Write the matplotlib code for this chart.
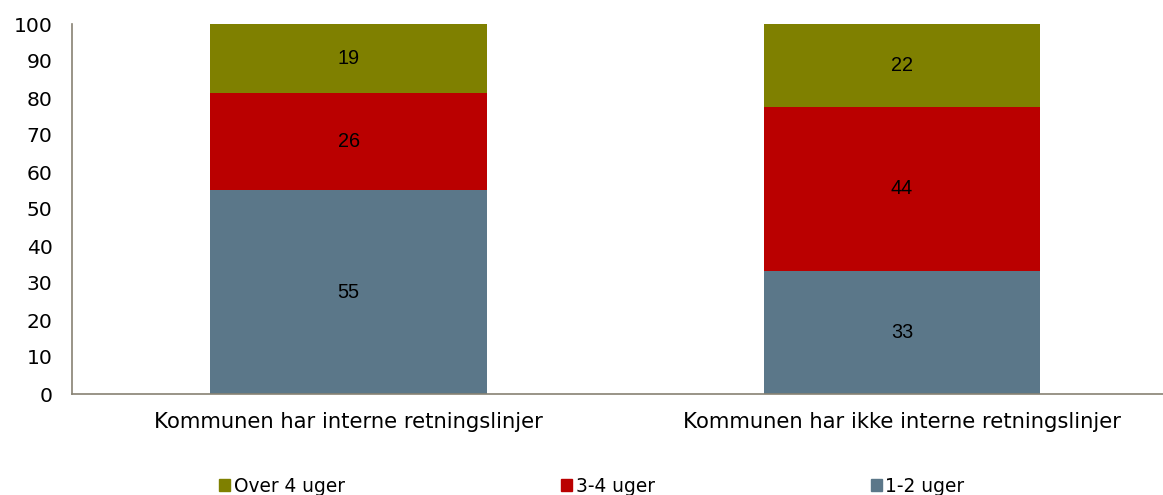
import matplotlib
matplotlib.use("Agg")
import matplotlib.pyplot as plt
from matplotlib.patches import Patch

categories = ["Kommunen har interne retningslinjer", "Kommunen har ikke interne retningslinjer"]
series_names = ["1-2 uger", "3-4 uger", "Over 4 uger"]
v_12 = [55.1, 33.3]
v_34 = [26.3, 44.4]
v_over4 = [18.6, 22.3]
colors = {"1-2 uger": "#5B7789", "3-4 uger": "#BA0000", "Over 4 uger": "#7F8000"}
yticks = list(range(0, 101, 10))

fig = plt.figure(figsize=(11.63, 4.95), dpi=100)
ax = fig.add_axes([72/1163, 1-394/495, (1163-72)/1163, (394-24)/495])

x = [0, 1]
w = 0.5
bottom = [0, 0]
for name, vals in zip(series_names, [v_12, v_34, v_over4]):
    ax.bar(x, vals, w, bottom=bottom, color=colors[name], label=name)
    for xi, b, v in zip(x, bottom, vals):
        ax.text(xi, b + v/2, f"{v:.0f}", ha="center", va="center", fontsize=14.3,
                family="Liberation Sans", color="black")
    bottom = [b + v for b, v in zip(bottom, vals)]

ax.set_xlim(-0.5, 1.472)
ax.set_ylim(0, 100)
ax.set_yticks(yticks)
ax.set_xticks(x)
ax.set_xticklabels(categories, fontsize=15.2)
ax.tick_params(axis="y", length=0, labelsize=14.6, pad=14)
ax.tick_params(axis="x", length=0, pad=13)
for s in ["top", "right"]:
    ax.spines[s].set_visible(False)
for s in ["left", "bottom"]:
    ax.spines[s].set_color("#878273")
    ax.spines[s].set_linewidth(1.2)

handles = [Patch(color=colors[n]) for n in ["Over 4 uger", "3-4 uger", "1-2 uger"]]
labels = ["Over 4 uger", "3-4 uger", "1-2 uger"]
fig.legend(handles, labels, loc="center left", bbox_to_anchor=(219/1163, 1-486/495),
           ncol=3, frameon=False, fontsize=13.4, handlelength=0.6, handleheight=0.6,
           handletextpad=0.2, columnspacing=11.6, borderaxespad=0, borderpad=0)

fig.savefig("out.png", dpi=100)
